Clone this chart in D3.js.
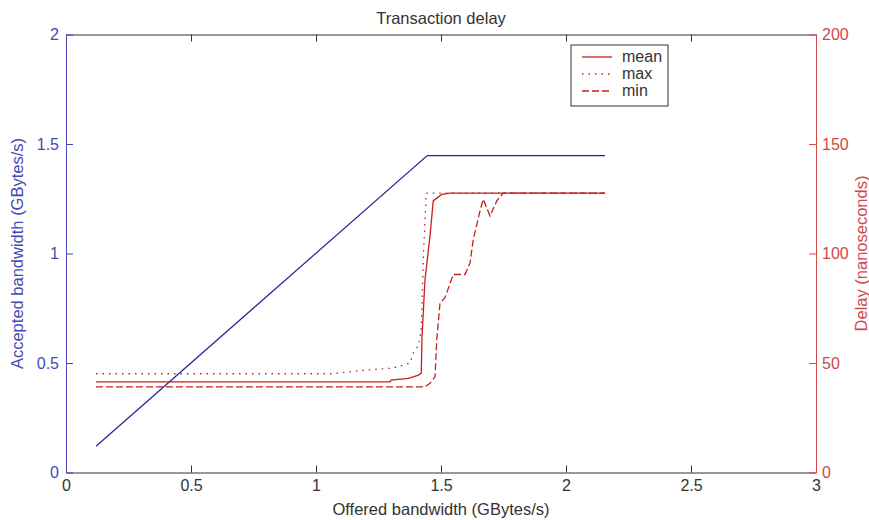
<!DOCTYPE html>
<html>
<head>
<meta charset="utf-8">
<script src="https://cdn.jsdelivr.net/npm/d3@7"></script>
<style>
  body { margin: 0; background: #fff; }
  text { font-family: "Liberation Sans", Arial, sans-serif; }
</style>
</head>
<body>
<div id="chart"></div>
<script>
// accepted bandwidth (left axis, GBytes/s) vs offered bandwidth
const acceptedX = [0.12, 1.445, 2.156];
const acceptedY = [0.12, 1.447, 1.447];

// delay (right axis, ns)
const meanX = [0.12, 1.296, 1.30, 1.37, 1.41, 1.421, 1.424, 1.436, 1.456, 1.469, 1.503, 1.536, 2.156];
const meanD = [41.4, 41.4, 42.2, 43, 44.5, 45.4, 62, 88, 108, 124, 127, 127.6, 127.6];

const maxX = [0.12, 1.07, 1.176, 1.31, 1.376, 1.389, 1.41, 1.421, 1.43, 1.441, 2.156];
const maxD = [45.1, 45.1, 46.5, 47.7, 50, 54.6, 58, 65, 100, 127.6, 127.6];

const minX = [0.12, 1.436, 1.456, 1.476, 1.483, 1.496, 1.516, 1.549, 1.596, 1.616, 1.629, 1.656, 1.669, 1.696, 1.723, 1.749, 2.156];
const minD = [39.1, 39.1, 40.7, 43.7, 60.5, 77.4, 79.8, 90.4, 90.4, 95.7, 106.4, 119.4, 124.8, 117.1, 124, 127.6, 127.6];

const xTicks = [0, 0.5, 1, 1.5, 2, 2.5, 3];
const leftTicks = [0, 0.5, 1, 1.5, 2];
const rightTicks = [0, 50, 100, 150, 200];
const legendNames = ["mean", "max", "min"];

const width = 869;
const height = 520;
const margin = { top: 34.5, right: 53, bottom: 47.5, left: 66 };

const blueAxis = "#4848b4";
const blueLine = "#23239a";
const redAxis = "#d04848";
const redLine = "#c42020";
const fs = "16px";
const titleFs = "16.5px";

const svg = d3.select("#chart").append("svg")
  .attr("width", width)
  .attr("height", height);

const x = d3.scaleLinear().domain([0, 3]).range([margin.left, width - margin.right]);
const yL = d3.scaleLinear().domain([0, 2]).range([height - margin.bottom, margin.top]);
const yR = d3.scaleLinear().domain([0, 200]).range([height - margin.bottom, margin.top]);

const tickLen = -7;
const fmt = (d) => String(d);

// top border (ticks only)
svg.append("g")
  .attr("transform", `translate(0, ${margin.top})`)
  .call(d3.axisTop(x).tickValues(xTicks).tickSizeInner(tickLen).tickSizeOuter(0).tickFormat(""))
  .call((g) => g.selectAll("path, line").attr("stroke", "#333"));

// bottom axis
const gx = svg.append("g")
  .attr("transform", `translate(0, ${height - margin.bottom})`)
  .call(d3.axisBottom(x).tickValues(xTicks).tickSizeInner(tickLen).tickSizeOuter(0).tickPadding(7).tickFormat(fmt));
gx.selectAll("path, line").attr("stroke", "#333");
gx.selectAll("text").attr("fill", "#333").style("font-size", fs);

// left axis
const gl = svg.append("g")
  .attr("transform", `translate(${margin.left}, 0)`)
  .call(d3.axisLeft(yL).tickValues(leftTicks).tickSizeInner(tickLen).tickSizeOuter(0).tickPadding(7).tickFormat(fmt));
gl.selectAll("path, line").attr("stroke", blueAxis);
gl.selectAll("text").attr("fill", blueAxis).style("font-size", fs);

// right axis
const gr = svg.append("g")
  .attr("transform", `translate(${width - margin.right}, 0)`)
  .call(d3.axisRight(yR).tickValues(rightTicks).tickSizeInner(tickLen).tickSizeOuter(0).tickPadding(6).tickFormat(fmt));
gr.selectAll("path, line").attr("stroke", redAxis);
gr.selectAll("text").attr("fill", redAxis).style("font-size", fs);

// titles
svg.append("text")
  .attr("x", (margin.left + width - margin.right) / 2)
  .attr("y", 24)
  .attr("text-anchor", "middle")
  .attr("fill", "#333")
  .style("font-size", titleFs)
  .text("Transaction delay");

svg.append("text")
  .attr("x", (margin.left + width - margin.right) / 2)
  .attr("y", 515)
  .attr("text-anchor", "middle")
  .attr("fill", "#333")
  .style("font-size", titleFs)
  .text("Offered bandwidth (GBytes/s)");

svg.append("text")
  .attr("transform", `translate(23, ${(margin.top + height - margin.bottom) / 2}) rotate(-90)`)
  .attr("text-anchor", "middle")
  .attr("fill", blueAxis)
  .style("font-size", titleFs)
  .text("Accepted bandwidth (GBytes/s)");

svg.append("text")
  .attr("transform", `translate(867, ${(margin.top + height - margin.bottom) / 2}) rotate(-90)`)
  .attr("text-anchor", "middle")
  .attr("fill", redAxis)
  .style("font-size", titleFs)
  .text("Delay (nanoseconds)");

// lines
const lineL = d3.line().x((d) => x(d[0])).y((d) => yL(d[1]));
const lineR = d3.line().x((d) => x(d[0])).y((d) => yR(d[1]));

svg.append("path")
  .datum(d3.zip(acceptedX, acceptedY))
  .attr("fill", "none")
  .attr("stroke", blueLine)
  .attr("stroke-width", 1.2)
  .attr("d", lineL);

const series = [
  { name: "mean", xs: meanX, ys: meanD, dash: null },
  { name: "max", xs: maxX, ys: maxD, dash: "1.5,5" },
  { name: "min", xs: minX, ys: minD, dash: "7,3" },
];

series.forEach((s) => {
  svg.append("path")
    .datum(d3.zip(s.xs, s.ys))
    .attr("fill", "none")
    .attr("stroke", redLine)
    .attr("stroke-width", 1.3)
    .attr("stroke-dasharray", s.dash)
    .attr("d", lineR);
});

// legend
const legend = svg.append("g").attr("transform", "translate(571, 45)");
legend.append("rect")
  .attr("width", 97)
  .attr("height", 61)
  .attr("fill", "#fff")
  .attr("stroke", "#333");

legendNames.forEach((name, i) => {
  const s = series.find((d) => d.name === name);
  const yy = 12 + i * 17;
  legend.append("line")
    .attr("x1", 11).attr("x2", 41)
    .attr("y1", yy).attr("y2", yy)
    .attr("stroke", redLine)
    .attr("stroke-width", 1.3)
    .attr("stroke-dasharray", s.dash);
  legend.append("text")
    .attr("x", 51)
    .attr("y", yy + 5)
    .attr("fill", "#333")
    .style("font-size", fs)
    .text(name);
});
</script>
</body>
</html>
